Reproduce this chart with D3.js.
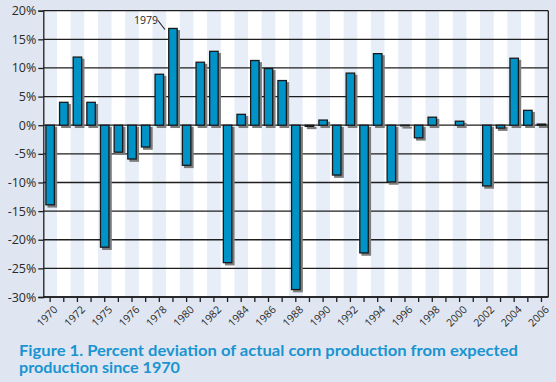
<!DOCTYPE html>
<html>
<head>
<meta charset="utf-8">
<script src="https://cdn.jsdelivr.net/npm/d3@7"></script>
<style>
  html, body { margin: 0; padding: 0; background: #dfe6f1; }
  svg { display: block; }
</style>
</head>
<body>
<svg id="chart" width="556" height="382"></svg>
<script>
const years = d3.range(1970, 2007);
const deviation = [
  -13.9, 4.0, 11.9, 4.0, -21.3, -4.7, -5.9, -3.8, 8.9, 16.9,
  -7.0, 11.0, 12.9, -24.0, 1.9, 11.3, 9.9, 7.8, -28.7, -0.2,
  0.9, -8.7, 9.1, -22.3, 12.5, -9.9, -0.1, -2.2, 1.4, 0.0,
  0.7, 0.0, -10.6, -0.5, 11.7, 2.6, 0.2
];
const yTicks = [-30, -25, -20, -15, -10, -5, 0, 5, 10, 15, 20];
const xTickYears = d3.range(1970, 2007, 2);
const xTickLabels = ["1970","1972","1975","1976","1978","1980","1982","1984","1986","1988",
                     "1990","1992","1994","1996","1998","2000","2002","2004","2006"];
const titleLines = ["Figure 1. Percent deviation of actual corn production from expected",
                    "production since 1970"];
const annotationYear = 1979;

(function () {
const svg = d3.select("#chart");
const pLeft = 43.3, pRight = 548.3, pTop = 10.7, pBottom = 297;

const x = d3.scaleBand().domain(years).range([pLeft, pRight]).padding(0);
const y = d3.scaleLinear().domain([-30, 20]).range([pBottom, pTop]);

svg.append("rect").attr("width", 556).attr("height", 382).attr("fill", "#dfe6f1");

// plot background + stripes
svg.append("rect").attr("x", pLeft).attr("y", pTop).attr("width", pRight - pLeft).attr("height", pBottom - pTop).attr("fill", "#ffffff");
svg.append("g").selectAll("rect").data(years.filter((d, i) => i % 2 === 0)).join("rect")
  .attr("x", d => x(d)).attr("y", pTop).attr("width", x.bandwidth()).attr("height", pBottom - pTop)
  .attr("fill", "#e7eef8");

// gridlines
svg.append("g").selectAll("line").data(yTicks).join("line")
  .attr("x1", pLeft).attr("x2", pRight).attr("y1", d => y(d)).attr("y2", d => y(d))
  .attr("stroke", "#1e1e1e").attr("stroke-width", 1.3);

// bars
const bw = x.bandwidth() * 0.62;
const bx = d => x(d) + (x.bandwidth() - bw) / 2;
const data = years.map((yr, i) => ({ yr, v: deviation[i] }));
svg.append("g").selectAll("rect").data(data).join("rect")
  .attr("x", d => bx(d.yr) + 2.2).attr("y", d => Math.min(y(d.v), y(0)) + 2.2)
  .attr("width", bw).attr("height", d => Math.abs(y(d.v) - y(0)))
  .attr("fill", "#7c7c7c").attr("stroke", "#7c7c7c").attr("stroke-width", 1.2);
svg.append("g").selectAll("rect").data(data).join("rect")
  .attr("x", d => bx(d.yr)).attr("y", d => Math.min(y(d.v), y(0)))
  .attr("width", bw).attr("height", d => Math.abs(y(d.v) - y(0)))
  .attr("fill", "#0093c8").attr("stroke", "#1a1a1a").attr("stroke-width", 1.3);

// frame
svg.append("line").attr("x1", pRight).attr("x2", pRight).attr("y1", pTop).attr("y2", pBottom)
  .attr("stroke", "#1e1e1e").attr("stroke-width", 1.3);

// y axis
const yAxis = svg.append("g").attr("transform", `translate(${pLeft},0)`)
  .call(d3.axisLeft(y).tickValues(yTicks).tickSize(5).tickPadding(2).tickFormat(d => d + "%"));
yAxis.select(".domain").attr("stroke", "#1e1e1e").attr("stroke-width", 1.3);
yAxis.selectAll(".tick line").attr("stroke", "#1e1e1e").attr("stroke-width", 1.3);
yAxis.selectAll(".tick text").attr("font-family", "Open Sans").attr("font-size", 12.5).attr("fill", "#2a2a2a");

// x axis
const xCenter = d => x(d) + x.bandwidth() / 2;
const xAxis = svg.append("g").attr("transform", `translate(0,${pBottom})`);
xAxis.append("line").attr("x1", pLeft).attr("x2", pRight).attr("stroke", "#1e1e1e").attr("stroke-width", 1.3);
xAxis.selectAll("line.tk").data(years).join("line").attr("class", "tk")
  .attr("x1", xCenter).attr("x2", xCenter).attr("y1", 0).attr("y2", 5)
  .attr("stroke", "#1e1e1e").attr("stroke-width", 1.3);
xAxis.selectAll("text").data(xTickYears).join("text")
  .attr("transform", d => `translate(${xCenter(d) + 3},${8}) rotate(-45)`)
  .attr("text-anchor", "end").attr("dy", "0.7em")
  .attr("font-family", "Open Sans").attr("font-size", 10.5).attr("fill", "#2a2a2a")
  .text((d, i) => xTickLabels[i]);

// annotation
const ax = xCenter(annotationYear);
svg.append("line").attr("x1", ax - 15).attr("y1", 20.5).attr("x2", ax - 8).attr("y2", 29.5)
  .attr("stroke", "#1e1e1e").attr("stroke-width", 1.1);
svg.append("text").attr("x", ax - 15).attr("y", 24).attr("text-anchor", "end")
  .attr("font-family", "Open Sans").attr("font-size", 10.5).attr("fill", "#1e1e1e")
  .text(String(annotationYear));

// title
const tl = [499, 161];
svg.append("g").selectAll("text").data(titleLines).join("text")
  .attr("x", 19).attr("y", (d, i) => 355.5 + i * 17.5)
  .attr("font-family", "Lato").attr("font-weight", "bold").attr("font-size", 16)
  .attr("fill", "#1a94d0")
  .attr("textLength", (d, i) => tl[i]).attr("lengthAdjust", "spacingAndGlyphs")
  .text(d => d);
})();
</script>
</body>
</html>
